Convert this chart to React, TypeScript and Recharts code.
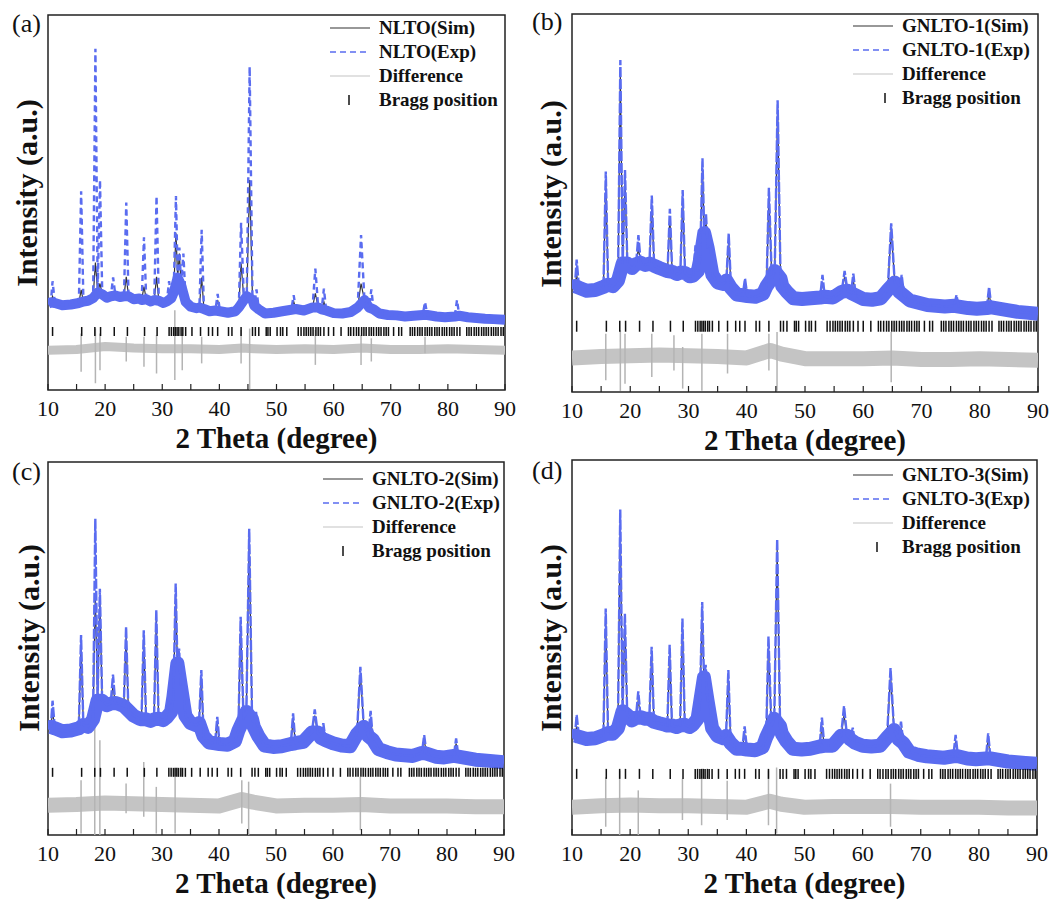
import React from 'react';
import { ComposedChart, Line, Scatter, ErrorBar, XAxis, YAxis, ReferenceArea } from 'recharts';

// 2θ sample positions of the refined profile (peak tops and their feet)
const twoTheta = [
  10.0, 10.5, 10.8, 11.2, 12.5, 14.0, 15.4, 15.8, 16.2, 17.0, 17.9, 18.3, 18.7, 19.1, 19.5, 20.3, 21.0, 21.4, 21.8, 22.6,
  23.3, 23.7, 24.1, 25.0, 26.0, 26.4, 26.8, 27.2, 28.0, 28.6, 29.0, 29.4, 30.2, 30.8, 31.2, 31.6, 32.0, 32.4, 32.7, 33.0,
  33.3, 33.7, 34.1, 35.0, 36.0, 36.5, 36.9, 37.3, 38.3, 39.3, 39.7, 40.1, 41.5, 42.8, 43.4, 43.8, 44.3, 44.8, 45.3, 45.8,
  46.1, 46.5, 46.9, 48.0, 49.5, 51.0, 52.6, 53.0, 53.4, 54.8, 56.3, 56.8, 57.3, 57.9, 58.3, 58.7, 60.0, 61.5, 63.0, 64.2,
  64.8, 65.4, 66.2, 66.6, 67.0, 68.0, 69.5, 71.0, 72.5, 74.0, 75.6, 76.0, 76.4, 78.0, 79.5, 81.2, 81.6, 82.0, 83.5, 85.0,
  86.5, 88.0, 90.0,
];

// reflections where the simulated curve differs from the measured one
const peakTheta = [
  10.8, 15.8, 18.3, 19.1, 21.4, 23.7, 26.8, 29.0, 31.2, 32.4, 33.0, 33.7, 36.9, 39.7, 43.8, 45.3, 46.5, 53.0, 56.8, 58.3,
  64.8, 66.6, 76.0, 81.6,
];

const braggTheta = [
  10.8, 15.9, 18.2, 19.2, 21.6, 23.9, 26.9, 29.1, 31.2, 31.6, 32.0, 32.3, 32.6, 32.9, 33.3, 33.6, 34.1, 35.2, 36.7, 38.1,
  38.8, 39.7, 41.6, 42.2, 43.8, 45.8, 46.3, 46.9, 48.2, 48.5, 48.9, 50.1, 50.7, 51.1, 51.8, 53.8, 54.3, 54.8, 55.2, 55.6,
  56.0, 56.4, 56.9, 57.3, 57.7, 58.3, 59.1, 60.0, 61.3, 62.6, 63.0, 63.5, 64.0, 64.4, 64.9, 65.3, 65.7, 66.2, 66.6, 67.0,
  67.5, 67.9, 68.3, 68.8, 69.2, 69.6, 70.5, 71.4, 71.9, 73.4, 73.8, 74.2, 74.7, 75.1, 75.5, 76.0, 76.4, 76.8, 77.2, 77.7,
  78.1, 78.5, 79.0, 79.4, 79.8, 80.3, 80.7, 81.1, 81.6, 82.1, 83.3, 83.7, 84.1, 84.6, 85.0, 85.4, 85.9, 86.3, 86.7, 87.1,
  87.6, 88.0, 88.4, 88.8, 89.3, 89.7,
];

const diffTheta = [10, 15, 20, 25, 30, 35, 40, 44, 46, 50, 55, 60, 65, 70, 75, 80, 85, 90];

// (a) NLTO
const expA = [
  23.0, 23.4, 29.0, 23.2, 22.6, 22.8, 23.2, 53.0, 23.6, 23.8, 24.5, 91.0, 26.0, 56.0, 25.5, 24.6, 25.0, 30.0, 25.2, 24.8,
  25.0, 50.0, 25.0, 24.2, 24.4, 24.0, 40.7, 24.2, 23.6, 24.0, 51.7, 23.8, 23.2, 23.6, 29.0, 24.5, 26.0, 51.7, 30.0, 38.0,
  28.0, 36.4, 23.5, 22.2, 21.8, 22.0, 42.7, 21.6, 21.0, 21.2, 25.6, 21.0, 20.6, 21.0, 22.0, 44.6, 24.0, 25.0, 86.2, 24.0,
  22.5, 26.8, 21.5, 20.4, 20.6, 21.0, 21.4, 25.3, 21.6, 21.2, 22.0, 32.4, 22.0, 21.5, 27.0, 21.2, 20.5, 20.4, 20.8, 22.0,
  41.3, 24.0, 22.0, 26.8, 21.5, 20.4, 20.0, 19.9, 19.6, 19.8, 20.0, 23.5, 20.0, 19.6, 19.4, 19.6, 24.0, 19.8, 19.4, 19.2,
  19.0, 18.9, 18.7,
];
const simPeakA = [25, 26.7, 34, 28.4, 25.8, 30.2, 27.6, 30.2, 25, 41.8, 36.4, 27.6, 30, 24, 33.8, 56, 24, 23.6, 25.8, 23.5, 28.4, 22.7, 20.4, 20];
const diffA = [10.6, 10.8, 11.6, 11.2, 11.0, 11.0, 10.8, 11.2, 11.0, 10.8, 11.0, 10.8, 11.2, 10.8, 10.8, 11.0, 10.8, 10.6];
const spikeThetaA = [15.8, 18.3, 19.1, 23.7, 26.8, 29.0, 32.2, 33.5, 36.9, 43.8, 45.3, 56.8, 64.8, 66.6, 76.0];
const spikeTopA = [15.1, 16.4, 15.1, 14.2, 14.2, 14.7, 21.3, 15.1, 14.2, 16.0, 16.4, 16.0, 14.7, 13.8, 14.2];
const spikeBottomA = [4.9, 1.8, 5.3, 7.6, 6.2, 4.4, 2.7, 5.3, 7.1, 7.1, 0.2, 6.7, 6.7, 7.6, 9.8];

// (b) GNLTO-1
const expB = [
  27.5, 28.0, 35.0, 27.6, 26.8, 27.0, 27.8, 58.3, 28.4, 28.0, 29.5, 87.8, 34.0, 58.7, 34.0, 32.8, 33.8, 41.5, 34.2, 33.6,
  34.0, 52.0, 33.4, 32.8, 32.2, 32.0, 48.5, 31.8, 31.2, 31.6, 53.4, 31.5, 30.6, 30.8, 38.8, 32.0, 35.0, 61.8, 42.0, 47.2,
  38.0, 41.5, 31.0, 29.0, 28.6, 29.5, 41.9, 27.5, 25.8, 25.6, 30.0, 25.4, 25.2, 26.0, 28.0, 54.0, 30.0, 32.0, 77.2, 30.0,
  28.0, 30.0, 26.5, 24.8, 24.6, 24.8, 25.0, 31.0, 25.2, 25.0, 26.5, 32.0, 26.8, 26.2, 31.3, 25.6, 24.6, 24.4, 24.8, 27.0,
  44.6, 29.0, 26.5, 31.0, 25.5, 24.2, 23.6, 23.0, 22.8, 22.6, 22.8, 25.6, 22.6, 22.2, 22.0, 22.2, 27.8, 22.4, 22.0, 21.6,
  21.2, 21.0, 20.7,
];
const simPeakB = [31, 55, 84, 56, 38, 49, 46, 51, 36, 59, 45, 39, 40, 28.5, 52, 75, 29, 29, 30.5, 29.5, 43, 29.5, 24.5, 26];
const diffB = [9.0, 9.4, 9.6, 9.8, 9.6, 9.4, 9.0, 11.0, 10.0, 8.8, 8.8, 8.8, 9.0, 8.6, 8.6, 8.8, 8.6, 8.4];
const spikeThetaB = [15.8, 18.3, 19.1, 23.7, 27.5, 29.0, 32.3, 36.7, 43.8, 45.2, 64.8];
const spikeTopB = [15.4, 16.3, 15.4, 15.4, 15.0, 11.9, 15.4, 15.4, 15.4, 15.9, 15.9];
const spikeBottomB = [3.1, 0.3, 2.2, 4.0, 5.7, 0.9, 0.3, 4.9, 5.7, 0.3, 2.6];

// (c) GNLTO-2
const expC = [
  28.5, 29.0, 36.0, 28.6, 27.8, 28.0, 28.6, 53.6, 29.5, 29.0, 31.0, 84.8, 36.0, 66.0, 36.0, 34.8, 35.2, 43.0, 35.4, 35.0,
  34.6, 55.8, 33.4, 32.0, 31.2, 31.0, 54.9, 31.0, 30.6, 31.0, 60.3, 31.2, 30.8, 31.5, 36.0, 33.0, 37.0, 67.4, 46.0, 50.0,
  40.0, 43.3, 32.0, 30.0, 29.4, 30.0, 44.2, 26.5, 24.8, 24.6, 31.7, 24.4, 24.2, 25.2, 28.0, 58.5, 31.0, 33.0, 82.1, 31.0,
  29.0, 33.0, 26.5, 24.0, 23.6, 23.8, 24.4, 32.6, 24.6, 25.0, 27.5, 33.7, 27.5, 26.0, 30.0, 25.4, 24.6, 24.0, 23.8, 27.0,
  45.1, 29.0, 26.5, 33.3, 25.5, 23.0, 22.2, 21.6, 21.4, 21.2, 22.0, 26.8, 21.8, 21.0, 20.8, 21.2, 25.9, 21.0, 20.6, 20.2,
  20.0, 19.8, 19.5,
];
const simPeakC = [33, 51, 64.3, 64, 40, 53, 52, 58, 34, 64, 47, 41, 42, 30, 56, 80, 31, 31, 32, 29, 43.5, 31.5, 25.5, 24.5];
const diffC = [8.0, 8.2, 8.6, 8.4, 8.2, 8.0, 7.8, 9.5, 8.8, 7.8, 8.0, 8.0, 8.2, 7.8, 7.8, 7.8, 7.6, 7.6];
const spikeThetaC = [15.8, 18.2, 19.1, 23.7, 26.8, 29.0, 32.3, 44.0, 45.2, 64.8];
const spikeTopC = [14.7, 29.0, 25.4, 13.8, 19.6, 12.9, 15.6, 14.7, 14.3, 15.6];
const spikeBottomC = [0.4, 0.0, 0.0, 5.8, 4.9, 0.4, 0.4, 3.1, 0.0, 1.3];

// (d) GNLTO-3
const expD = [
  26.0, 26.5, 32.0, 26.2, 25.6, 25.8, 26.6, 60.4, 27.2, 27.0, 28.5, 86.8, 33.0, 59.0, 32.0, 30.6, 31.2, 38.3, 31.4, 31.0,
  31.0, 50.2, 30.2, 29.8, 29.4, 29.2, 50.7, 29.2, 28.8, 29.2, 57.7, 29.4, 28.8, 29.4, 33.0, 31.0, 35.0, 62.1, 42.0, 45.4,
  36.0, 35.2, 28.5, 26.4, 25.8, 26.4, 44.0, 24.5, 23.0, 23.0, 29.0, 22.8, 22.6, 23.4, 26.0, 52.9, 29.0, 31.0, 78.9, 29.0,
  27.0, 30.0, 25.0, 23.0, 22.8, 23.0, 23.6, 31.3, 23.8, 23.8, 26.5, 34.4, 26.5, 25.5, 28.6, 24.6, 23.8, 23.6, 23.8, 26.0,
  44.5, 28.0, 25.5, 30.2, 24.5, 22.2, 21.4, 21.0, 20.8, 20.6, 21.0, 26.7, 21.0, 20.4, 20.2, 20.4, 27.1, 20.4, 20.0, 19.6,
  19.4, 19.2, 19.0,
];
const simPeakD = [29, 57, 83, 56, 36, 48, 48, 55, 31, 59, 43, 33, 42, 27, 50, 76, 28, 29, 32, 27, 42.5, 28.5, 25, 25.5];
const diffD = [7.4, 7.8, 8.0, 7.8, 7.8, 7.6, 7.4, 9.0, 8.2, 7.4, 7.6, 7.6, 7.6, 7.4, 7.4, 7.4, 7.2, 7.2];
const spikeThetaD = [15.8, 18.2, 21.4, 29.0, 32.3, 36.7, 43.8, 45.2, 64.8];
const spikeTopD = [15.4, 17.2, 11.9, 15.0, 15.0, 14.5, 17.2, 18.0, 13.7];
const spikeBottomD = [2.2, 0.0, 0.0, 4.0, 2.6, 4.0, 2.6, 0.4, 2.2];

const xTicks = [10, 15, 20, 25, 30, 35, 40, 45, 50, 55, 60, 65, 70, 75, 80, 85, 90];

const FONT = '"Liberation Serif", "Times New Roman", Times, serif';
const BLUE = '#5a6cf0';
const GREY = '#c4c4c4';

const panels = [
  {
    letter: '(a)', name: 'NLTO', exp: expA, simPeaks: simPeakA, diff: diffA,
    spikeTheta: spikeThetaA, spikeTop: spikeTopA, spikeBottom: spikeBottomA,
    left: 0, top: 0, width: 530, height: 446, margin: { top: 15, right: 25, bottom: 26, left: 48 },
    bandWidth: 10, diffWidth: 9, dash: '6 4', bragg: 15.6, braggLen: 9,
    legend: { x: 330, y: 28, tick: 19 }, yTitle: { x: 27, y: 193 }, xTitle: 427, letterPos: { x: 12, y: 11 },
  },
  {
    letter: '(b)', name: 'GNLTO-1', exp: expB, simPeaks: simPeakB, diff: diffB,
    spikeTheta: spikeThetaB, spikeTop: spikeTopB, spikeBottom: spikeBottomB,
    left: 524, top: 0, width: 533, height: 446, margin: { top: 14, right: 19, bottom: 24, left: 48 },
    bandWidth: 14, diffWidth: 15, dash: '10 2', bragg: 17.4, braggLen: 11,
    legend: { x: 853, y: 26, tick: 32 }, yTitle: { x: 551, y: 194 }, xTitle: 429, letterPos: { x: 532, y: 9 },
  },
  {
    letter: '(c)', name: 'GNLTO-2', exp: expC, simPeaks: simPeakC, diff: diffC,
    spikeTheta: spikeThetaC, spikeTop: spikeTopC, spikeBottom: spikeBottomC,
    left: 0, top: 446, width: 530, height: 453, margin: { top: 16, right: 26, bottom: 34, left: 48 },
    bandWidth: 14, diffWidth: 15, dash: '10 2', bragg: 16.8, braggLen: 9,
    legend: { x: 323, y: 479, tick: 20 }, yTitle: { x: 29, y: 638 }, xTitle: 872, letterPos: { x: 12, y: 459 },
  },
  {
    letter: '(d)', name: 'GNLTO-3', exp: expD, simPeaks: simPeakD, diff: diffD,
    spikeTheta: spikeThetaD, spikeTop: spikeTopD, spikeBottom: spikeBottomD,
    left: 524, top: 446, width: 533, height: 453, margin: { top: 14, right: 20, bottom: 34, left: 48 },
    bandWidth: 14, diffWidth: 15, dash: '10 2', bragg: 16.3, braggLen: 10,
    legend: { x: 853, y: 475, tick: 24 }, yTitle: { x: 551, y: 638 }, xTitle: 872, letterPos: { x: 532, y: 458 },
  },
];

type PanelSpec = (typeof panels)[number];

function AxisTick(props: any) {
  const { x, y, payload } = props;
  const v = payload?.value;
  if (v % 10 !== 0) return <g />;
  return (
    <text x={x} y={y} dy="0.7em" textAnchor="middle" fontFamily={FONT} fontSize={22} fill="#111">
      {v}
    </text>
  );
}

function LegendBox({ p }: { p: PanelSpec }) {
  const rows = [`${p.name}(Sim)`, `${p.name}(Exp)`, 'Difference', 'Bragg position'];
  return (
    <div
      style={{
        position: 'absolute', left: p.legend.x, top: p.legend.y - 12,
        fontFamily: FONT, fontWeight: 'bold', fontSize: 19, color: '#111', whiteSpace: 'nowrap',
      }}
    >
      {rows.map((label, i) => (
        <div key={label} style={{ display: 'flex', alignItems: 'center', height: 24 }}>
          <svg width={49} height={24} style={{ display: 'block' }}>
            {i === 0 && <line x1={0} x2={40} y1={12} y2={12} stroke="#333" strokeWidth={1.2} />}
            {i === 1 && <line x1={0} x2={40} y1={12} y2={12} stroke={BLUE} strokeWidth={1.6} strokeDasharray="6 4" />}
            {i === 2 && <line x1={0} x2={40} y1={12} y2={12} stroke={GREY} strokeWidth={1.2} />}
            {i === 3 && <line x1={p.legend.tick} x2={p.legend.tick} y1={7} y2={17} stroke="#111" strokeWidth={1.5} />}
          </svg>
          <span style={{ lineHeight: '24px' }}>{label}</span>
        </div>
      ))}
    </div>
  );
}

function Panel({ p }: { p: PanelSpec }) {
  const profile = twoTheta.map((t, i) => {
    const k = peakTheta.indexOf(t);
    return { t, exp: p.exp[i], sim: k >= 0 ? p.simPeaks[k] : p.exp[i], band: k >= 0 ? null : p.exp[i] };
  });
  const diff = diffTheta.map((t, i) => ({ t, diff: p.diff[i] }));
  const spikes = p.spikeTheta.map((t, i) => ({ t, low: p.spikeBottom[i], err: [0, p.spikeTop[i] - p.spikeBottom[i]] }));
  const bragg = braggTheta.map((t) => ({ t, level: p.bragg }));
  const half = p.braggLen / 2;

  return (
    <>
      <div style={{ position: 'absolute', left: p.left, top: p.top }}>
        <ComposedChart width={p.width} height={p.height} margin={p.margin}>
          <XAxis
            dataKey="t"
            type="number"
            domain={[10, 90]}
            ticks={xTicks}
            interval={0}
            allowDataOverflow
            height={30}
            axisLine={false}
            tickSize={-6}
            tickMargin={17}
            tickLine={{ stroke: '#222', strokeWidth: 1.2 }}
            tick={<AxisTick />}
          />
          <YAxis hide type="number" domain={[0, 100]} allowDataOverflow />
          <Line data={diff} dataKey="diff" stroke={GREY} strokeWidth={p.diffWidth} strokeLinejoin="round" dot={false} isAnimationActive={false} />
          <Scatter data={spikes} dataKey="low" shape={() => <g />} isAnimationActive={false}>
            <ErrorBar dataKey="err" direction="y" width={0} stroke="#b4b4b4" strokeWidth={1.5} isAnimationActive={false} />
          </Scatter>
          <Scatter
            data={bragg}
            dataKey="level"
            isAnimationActive={false}
            shape={(s: any) => <line x1={s.cx} x2={s.cx} y1={s.cy - half} y2={s.cy + half} stroke="#111" strokeWidth={1.5} />}
          />
          <Line data={profile} dataKey="sim" stroke="#333" strokeWidth={1.2} dot={false} isAnimationActive={false} />
          <Line data={profile} dataKey="band" connectNulls stroke={BLUE} strokeWidth={p.bandWidth} strokeLinejoin="round" dot={false} isAnimationActive={false} />
          <Line data={profile} dataKey="exp" stroke={BLUE} strokeWidth={2.4} strokeDasharray={p.dash} dot={false} isAnimationActive={false} />
          <ReferenceArea x1={10} x2={90} y1={0} y2={100} fill="none" stroke="#222" strokeWidth={1.5} fillOpacity={0} />
        </ComposedChart>
      </div>
      <LegendBox p={p} />
      <div style={{ position: 'absolute', left: p.letterPos.x, top: p.letterPos.y, fontFamily: FONT, fontSize: 26, lineHeight: 1, color: '#111' }}>
        {p.letter}
      </div>
      <div
        style={{
          position: 'absolute', left: p.yTitle.x - 150, top: p.yTitle.y - 17, width: 300, height: 34,
          transform: 'rotate(-90deg)', textAlign: 'center', lineHeight: '34px',
          fontFamily: FONT, fontWeight: 'bold', fontSize: 30, color: '#111', whiteSpace: 'nowrap',
        }}
      >
        Intensity (a.u.)
      </div>
      <div
        style={{
          position: 'absolute', left: p.left + p.margin.left, top: p.xTitle,
          width: p.width - p.margin.left - p.margin.right, textAlign: 'center', lineHeight: '22px',
          fontFamily: FONT, fontWeight: 'bold', fontSize: 29, color: '#111', whiteSpace: 'nowrap',
        }}
      >
        2 Theta (degree)
      </div>
    </>
  );
}

export default function App() {
  return (
    <div style={{ position: 'absolute', left: 0, top: 0, width: 1057, height: 899, background: '#fff', overflow: 'hidden', fontFamily: FONT }}>
      {panels.map((p) => (
        <Panel key={p.letter} p={p} />
      ))}
    </div>
  );
}
